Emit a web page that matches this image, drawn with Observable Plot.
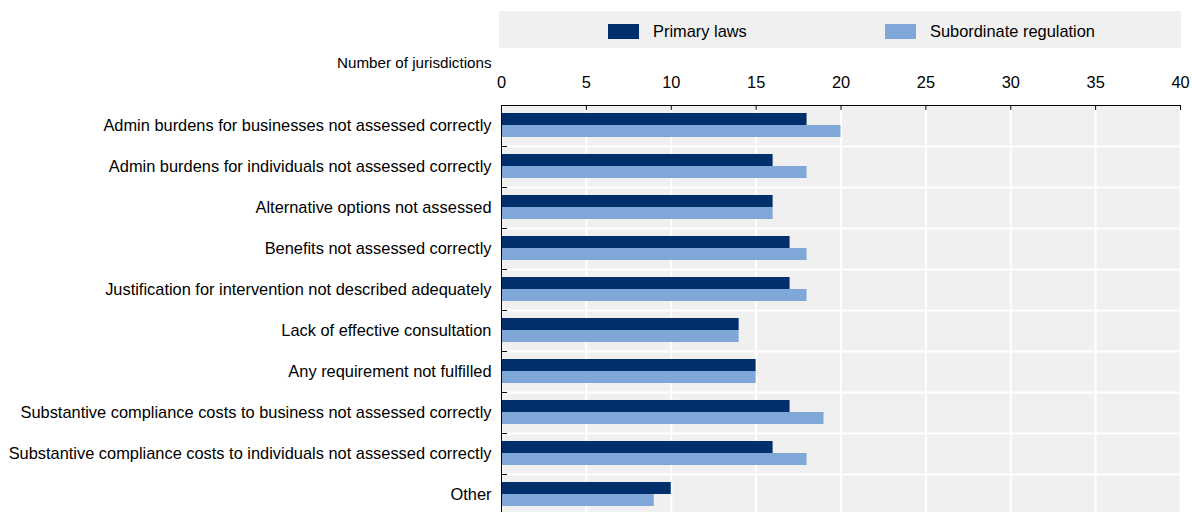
<!DOCTYPE html>
<html><head><meta charset="utf-8">
<script src="https://cdn.jsdelivr.net/npm/d3@7"></script>
<script src="https://cdn.jsdelivr.net/npm/@observablehq/plot@0.6"></script>
<style>
body{margin:0;background:#fff;overflow:hidden;font-family:"Liberation Sans Narrow","Arial Narrow","Liberation Sans",Arial,sans-serif;}
#wrap{position:relative;width:1192px;height:512px;overflow:hidden;}
#legend{position:absolute;left:499px;top:11px;width:682px;height:37px;background:#f0f0f0;font-size:16.4px;color:#000;}
.item{position:absolute;top:13px;height:15px;display:flex;align-items:center;white-space:nowrap;}
.sw{width:31px;height:15px;margin-right:14px;flex:none;}
#chart{position:absolute;left:0;top:0;}
</style></head><body>
<div id="wrap"><div id="chart"></div><div id="legend"></div></div>
<script>
const categories = [
  "Admin burdens for businesses not assessed correctly",
  "Admin burdens for individuals not assessed correctly",
  "Alternative options not assessed",
  "Benefits not assessed correctly",
  "Justification for intervention not described adequately",
  "Lack of effective consultation",
  "Any requirement not fulfilled",
  "Substantive compliance costs to business not assessed correctly",
  "Substantive compliance costs to individuals not assessed correctly",
  "Other"
];
const primaryLaws = [18, 16, 16, 17, 17, 14, 15, 17, 16, 10];
const subordinateRegulation = [20, 18, 16, 18, 18, 14, 15, 19, 18, 9];
const xTicks = [0, 5, 10, 15, 20, 25, 30, 35, 40];
const seriesNames = ["Primary laws", "Subordinate regulation"];
const seriesColors = ["#002F6C", "#7FA8D9"];
const axisTitle = "Number of jurisdictions";

const rows = categories.map((c, i) => ({category: c, primary: primaryLaws[i], sub: subordinateRegulation[i]}));
const font = '"Liberation Sans Narrow","Arial Narrow","Liberation Sans",Arial,sans-serif';

const chart = Plot.plot({
  width: 1192, height: 516,
  marginTop: 105, marginLeft: 501, marginRight: 12, marginBottom: 1,
  style: {fontFamily: font, fontSize: "16px", color: "#000", background: "transparent"},
  x: {domain: [0, 40], ticks: xTicks},
  y: {domain: categories, padding: 0, label: null},
  marks: [
    Plot.frame({fill: "#f0f0f0", stroke: null}),
    Plot.gridX(xTicks, {stroke: "#fff", strokeOpacity: 1, strokeWidth: 2}),
    Plot.ruleY(categories, {y: d => d, dy: 20.5, stroke: "#fff", strokeWidth: 2}),
    Plot.barX(rows, {y: "category", x: "primary", fill: seriesColors[0], insetTop: 8, insetBottom: 21}),
    Plot.barX(rows, {y: "category", x: "sub", fill: seriesColors[1], insetTop: 20, insetBottom: 9}),
    Plot.ruleY(categories, {y: d => d, dy: 20.5, x1: 0, x2: 0.35, stroke: "#000"}),
    Plot.tickX(xTicks, {x: d => d, y: () => categories[0], insetBottom: 36, stroke: "#000"}),
    Plot.ruleX([0], {stroke: "#000"}),
    Plot.frame({anchor: "top", stroke: "#000"}),
    Plot.axisX(xTicks, {anchor: "top", tickSize: 0, tickPadding: 18, label: null, fontSize: 16.4}),
    Plot.axisY({tickSize: 0, tickPadding: 10, label: null, fontSize: 16.4}),
    Plot.text([axisTitle], {frameAnchor: "top-left", dx: -10, dy: -48, textAnchor: "end", fontSize: 15.2})
  ]
});
document.getElementById("chart").appendChild(chart);

const legend = document.getElementById("legend");
const lefts = [109, 386];
seriesNames.forEach((n, i) => {
  const it = document.createElement("div");
  it.className = "item";
  it.style.left = lefts[i] + "px";
  it.innerHTML = `<div class="sw" style="background:${seriesColors[i]}"></div><span>${n}</span>`;
  legend.appendChild(it);
});
</script>
</body></html>
